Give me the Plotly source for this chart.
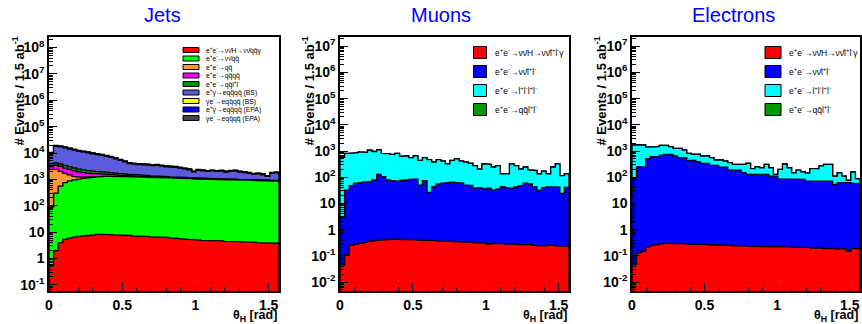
import numpy as np
import plotly.graph_objects as go

# ---------------- data ----------------
N_BINS = 50
X_MAX = np.pi / 2
edges = np.linspace(0, X_MAX, N_BINS + 1)

# Jets panel components (bottom -> top of stack)
jets_sig = [0.55, 2.0, 4.0, 5.3, 5.9, 6.5, 6.9, 7.2, 7.5, 7.8, 8.2, 8.3, 8.2, 8.0, 7.9, 7.7, 7.6, 7.5, 7.2, 7.0,
            6.9, 6.8, 6.6, 6.5, 6.7, 6.4, 6.1, 5.9, 5.7, 5.5, 5.3, 5.1, 5.0, 4.9, 4.9, 4.8, 4.8, 4.7, 4.5, 4.6,
            4.5, 4.4, 4.3, 4.2, 4.2, 4.0, 4.0, 3.9, 3.9, 3.8]
jets_nnqq = [90, 300, 550, 750, 880, 950, 1020, 1100, 1150, 1200, 1250, 1280, 1300, 1300, 1290, 1280, 1270, 1250,
             1230, 1250, 1220, 1200, 1180, 1200, 1170, 1150, 1130, 1120, 1100, 1110, 1070, 1040, 1030, 1040, 1010,
             1000, 970, 980, 960, 950, 960, 930, 920, 940, 910, 900, 920, 890, 880, 870]
jets_qq = [2300, 2100, 1450, 950, 600, 350, 200, 100, 50, 25, 15, 10, 8, 6, 5, 4, 4, 4, 4, 3, 3, 3, 3, 3, 3, 3, 3,
           3, 3, 3, 3, 3, 3, 3, 3, 3, 3, 2.5, 2.5, 2.5, 2.5, 2.5, 2.5, 2, 2, 2, 2, 2, 2, 2]
jets_qqqq = [600, 1100, 1100, 1000, 900, 800, 700, 600, 500, 430, 370, 320, 270, 220, 190, 160, 140, 120, 110, 100,
             90, 80, 70, 60, 55, 50, 45, 40, 36, 33, 30, 28, 26, 25, 24, 23, 22, 21, 20, 20, 20, 19, 19, 18, 18,
             18, 17, 17, 17, 16]
jets_qqll = [400, 700, 750, 700, 650, 600, 550, 500, 450, 400, 350, 320, 290, 260, 240, 220, 200, 180, 160, 140,
             120, 105, 95, 85, 78, 72, 66, 60, 56, 52, 50, 48, 46, 45, 44, 43, 42, 41, 40, 40, 39, 39, 38, 38, 37,
             37, 36, 36, 35, 35]
jets_eg_bs = [6450, 13700, 13170, 12240, 11220, 10170, 9115, 8550, 7960, 7320, 6750, 6250, 5670, 5010, 4340, 3660,
              2980, 2400, 2290, 2150, 2130, 2100, 1980, 2090, 1880, 1750, 1700, 1670, 1480, 1290, 1150, 800, 1090,
              990, 920, 1030, 970, 1020, 890, 1000, 1050, 910, 830, 700, 590, 650, 520, 350, 780, 840]
jets_ge_bs = [430, 780, 740, 680, 620, 560, 500, 470, 440, 410, 380, 360, 330, 300, 260, 230, 200, 170, 160, 160,
              150, 150, 140, 140, 130, 120, 120, 120, 110, 100, 90, 76, 88, 84, 80, 84, 80, 82, 76, 80, 82, 76,
              72, 68, 62, 64, 60, 52, 68, 70]
jets_eg_epa = [107, 195, 185, 170, 155, 140, 126, 118, 110, 102, 95, 89, 82, 74, 66, 58, 50, 43, 41, 39, 38, 37,
               35, 36, 33, 31, 30, 29, 27, 25, 23, 19, 22, 21, 20, 21, 20, 21, 19, 20, 21, 19, 18, 17, 16, 16, 15,
               13, 17, 17]
jets_ge_epa = [320, 585, 555, 510, 465, 420, 380, 355, 330, 306, 285, 267, 246, 222, 198, 174, 150, 129, 123, 117,
               114, 111, 105, 108, 99, 93, 90, 88, 81, 75, 69, 57, 66, 63, 60, 63, 60, 62, 57, 60, 62, 57, 54, 51,
               47, 48, 45, 39, 51, 52]

# Muons panel components
mu_sig = [0.045, 0.11, 0.26, 0.28, 0.30, 0.33, 0.36, 0.38, 0.40, 0.41, 0.42, 0.43, 0.43, 0.42, 0.42, 0.41, 0.41,
          0.40, 0.40, 0.39, 0.38, 0.37, 0.38, 0.36, 0.36, 0.35, 0.34, 0.33, 0.33, 0.32, 0.31, 0.31, 0.28, 0.30,
          0.30, 0.29, 0.28, 0.29, 0.28, 0.27, 0.26, 0.27, 0.25, 0.25, 0.24, 0.26, 0.25, 0.24, 0.23, 0.23]
mu_nnll = [3.1, 32, 48, 59, 62, 66, 67, 78, 129, 104, 78, 74, 71, 76, 78, 83, 85, 50, 74, 26, 43, 55, 59, 62, 64,
           62, 59, 50, 49, 38, 40, 36, 38, 32, 35, 43, 39, 38, 43, 48, 59, 55, 43, 31, 40, 43, 43, 42, 24, 41]
mu_llll = [572, 778, 762, 801, 858, 824, 1003, 882, 991, 706, 712, 666, 739, 544, 582, 477, 575, 390, 486, 444,
           337, 415, 356, 263, 376, 438, 356, 330, 291, 237, 165, 289, 272, 213, 240, 92, 96, 287, 232, 157, 186,
           135, 137, 104, 130, 92, 202, 283, 91, 94]
mu_qqll = [1.0, 1.5, 2.0, 2.0, 2.0, 2.0, 2.0, 2.0, 1.8, 1.8, 1.8, 1.6, 1.6, 1.6, 1.5, 1.5, 1.5, 1.4, 1.4, 1.4,
           1.3, 1.3, 1.3, 1.2, 1.2, 1.2, 1.1, 1.1, 1.1, 1.0, 1.0, 1.0, 1.0, 1.0, 1.0, 0.9, 0.9, 0.9, 0.9, 0.9,
           0.9, 0.8, 0.8, 0.8, 0.8, 0.8, 0.8, 0.8, 0.8, 0.8]

# Electrons panel components
el_sig = [0.046, 0.13, 0.15, 0.22, 0.25, 0.27, 0.29, 0.30, 0.30, 0.29, 0.29, 0.29, 0.28, 0.28, 0.27, 0.28, 0.27,
          0.26, 0.27, 0.26, 0.25, 0.26, 0.24, 0.25, 0.24, 0.23, 0.22, 0.23, 0.22, 0.23, 0.22, 0.22, 0.23, 0.22,
          0.22, 0.21, 0.22, 0.21, 0.21, 0.20, 0.21, 0.20, 0.19, 0.20, 0.19, 0.18, 0.19, 0.15, 0.19, 0.19]
el_nnll = [95, 250, 250, 510, 610, 610, 700, 750, 750, 645, 560, 560, 440, 440, 390, 340, 340, 285, 285, 240, 240,
           187, 187, 187, 148, 128, 128, 128, 128, 128, 110, 110, 87, 87, 83, 83, 83, 83, 71, 71, 71, 71, 71, 71,
           53, 62, 62, 62, 58, 58]
el_llll = [1605, 1470, 1470, 890, 870, 870, 950, 900, 730, 625, 710, 530, 375, 310, 360, 305, 305, 275, 170, 215,
           175, 173, 123, 123, 162, 212, 85, 122, 102, 182, 120, 18, 113, 233, 147, 65, 104, 79, 73, 142, 142, 199,
           239, 239, 57, 86, 48, 14, 100, 29]
el_qqll = [1.0, 1.5, 2.0, 2.0, 2.0, 2.0, 2.0, 2.0, 1.8, 1.8, 1.8, 1.6, 1.6, 1.6, 1.5, 1.5, 1.5, 1.4, 1.4, 1.4,
           1.3, 1.3, 1.3, 1.2, 1.2, 1.2, 1.1, 1.1, 1.1, 1.0, 1.0, 1.0, 1.0, 1.0, 1.0, 0.9, 0.9, 0.9, 0.9, 0.9,
           0.9, 0.8, 0.8, 0.8, 0.8, 0.8, 0.8, 0.8, 0.8, 0.8]

jets_labels = ["e<sup>+</sup>e<sup>-</sup>→νν̄H→νν̄qq̄γ", "e<sup>+</sup>e<sup>-</sup>→νν̄qq̄",
               "e<sup>+</sup>e<sup>-</sup>→qq̄", "e<sup>+</sup>e<sup>-</sup>→qq̄qq̄",
               "e<sup>+</sup>e<sup>-</sup>→qq̄l<sup>+</sup>l<sup>-</sup>", "e<sup>+</sup>γ→eqq̄qq̄ (BS)",
               "γe<sup>-</sup>→eqq̄qq̄ (BS)", "e<sup>+</sup>γ→eqq̄qq̄ (EPA)", "γe<sup>-</sup>→eqq̄qq̄ (EPA)"]
jets_colors = ["#FF0000", "#00FF00", "#FF9933", "#FF00FF", "#009900", "#5C5CDB", "#FFFF00", "#0000FF", "#444444"]
lep_colors = ["#FF0000", "#0000FF", "#00FFFF", "#009900"]
mu_labels = ["e<sup>+</sup>e<sup>-</sup>→νν̄H→νν̄l<sup>+</sup>l<sup>-</sup>γ",
             "e<sup>+</sup>e<sup>-</sup>→νν̄l<sup>+</sup>l<sup>-</sup>",
             "e<sup>+</sup>e<sup>-</sup>→l<sup>+</sup>l<sup>-</sup>l<sup>+</sup>l<sup>-</sup>",
             "e<sup>+</sup>e<sup>-</sup>→qq̄l<sup>+</sup>l<sup>-</sup>"]
panel_titles = ["Jets", "Muons", "Electrons"]
x_tick_vals = [0, 0.5, 1, 1.5]
x_tick_text = ["0", "0.5", "1", "1.5"]

# ---------------- figure ----------------
W, H = 862, 324
FLOOR = 1e-5
FONT = "Liberation Sans"


def px(x):
    return x / W


def py(y):
    return 1 - y / H


fig = go.Figure()


def add_stack(comps, colors, xa, ya):
    cum = np.cumsum(np.array(comps, dtype=float), axis=0)
    xs = np.concatenate([[edges[0]], np.repeat(edges, 2)[1:-1], [edges[-1]]])
    for k in reversed(range(len(comps))):
        ys = np.concatenate([[FLOOR], np.repeat(cum[k], 2), [FLOOR]])
        fig.add_trace(go.Scatter(x=xs, y=ys, mode="lines", fill="toself", fillcolor=colors[k],
                                 line=dict(color="black", width=1.3), xaxis=xa, yaxis=ya,
                                 showlegend=False, hoverinfo="skip"))


add_stack([jets_sig, jets_nnqq, jets_qq, jets_qqqq, jets_qqll, jets_eg_bs, jets_ge_bs, jets_eg_epa, jets_ge_epa],
          jets_colors, "x", "y")
add_stack([mu_sig, mu_nnll, mu_llll, mu_qqll], lep_colors, "x2", "y2")
add_stack([el_sig, el_nnll, el_llll, el_qqll], lep_colors, "x3", "y3")

x_domains = [[px(49), px(279)], [px(340), px(569)], [px(632), px(860)]]
y_domain = [py(291), py(37)]
y_ranges = [[-1.23, 8.4], [-2.34, 7.35], [-2.34, 7.35]]


def log_ticks(lo, hi):
    vals, text = [], []
    for n in range(int(np.ceil(lo)), int(np.floor(hi)) + 1):
        vals.append(10.0 ** n)
        if n == 0:
            text.append("1")
        elif n == 1:
            text.append("10")
        else:
            text.append("10<sup>%d</sup>" % n)
    minor = []
    for n in range(int(np.floor(lo)), int(np.ceil(hi)) + 1):
        for k in range(2, 10):
            v = k * 10.0 ** n
            if 10 ** lo < v < 10 ** hi:
                minor.append(v)
    return vals, text, minor


tickfont = dict(family=FONT, size=14, color="black", weight="bold")
layout = dict(width=W, height=H, margin=dict(l=0, r=0, t=0, b=0, autoexpand=False), paper_bgcolor="white",
              plot_bgcolor="white", showlegend=False)
for i in range(3):
    s = "" if i == 0 else str(i + 1)
    layout["xaxis" + s] = dict(domain=x_domains[i], range=[0, X_MAX], anchor="y" + s, showline=True,
                               linecolor="black", linewidth=1.5, mirror=True, ticks="inside", ticklen=8,
                               tickcolor="black", tickvals=x_tick_vals, ticktext=x_tick_text, tickfont=tickfont,
                               showgrid=False, zeroline=False, automargin=False,
                               minor=dict(ticks="inside", ticklen=4, dtick=0.1, tick0=0, tickcolor="black",
                                          showgrid=False))
    tv, tt, mv = log_ticks(*y_ranges[i])
    layout["yaxis" + s] = dict(domain=y_domain, type="log", range=y_ranges[i], anchor="x" + s, showline=True,
                               linecolor="black", linewidth=1.5, mirror=True, ticks="inside", ticklen=8,
                               tickcolor="black", tickvals=tv, ticktext=tt, tickfont=tickfont, showgrid=False,
                               zeroline=False, automargin=False,
                               minor=dict(ticks="inside", ticklen=4, tickmode="array", tickvals=mv,
                                          tickcolor="black", showgrid=False))
fig.update_layout(**layout)

annotations = []
shapes = []
title_x = [162, 441, 733]
ytitle_x = [18, 308, 600]
for i in range(3):
    annotations.append(dict(text=panel_titles[i], x=px(title_x[i]), y=py(15), xref="paper", yref="paper",
                            showarrow=False, xanchor="center", yanchor="middle",
                            font=dict(family=FONT, size=20, color="#0000FF")))
    annotations.append(dict(text="# Events / 1.5 ab<sup>-1</sup>", x=px(ytitle_x[i]), y=py(35), xref="paper",
                            yref="paper", showarrow=False, textangle=-90, xanchor="center", yanchor="top",
                            font=dict(family=FONT, size=13, color="black", weight="bold")))
    annotations.append(dict(text="θ<sub>H</sub> [rad]", x=x_domains[i][1], y=py(316.3), xref="paper",
                            yref="paper", showarrow=False, xanchor="right", yanchor="middle",
                            font=dict(family=FONT, size=12.5, color="black", weight="bold")))

# Jets legend
for j, (lab, col) in enumerate(zip(jets_labels, jets_colors)):
    yc = 50 + 8.5 * j
    shapes.append(dict(type="rect", xref="paper", yref="paper", x0=px(183), x1=px(199), y0=py(yc + 2.5),
                       y1=py(yc - 2.5), fillcolor=col, line=dict(color="black", width=1)))
    annotations.append(dict(text=lab, x=px(204), y=py(yc), xref="paper", yref="paper", showarrow=False,
                            xanchor="left", yanchor="middle", font=dict(family=FONT, size=6.8, color="black")))

# Lepton legends
for bx0, bx1, tx in [(473.5, 486.5, 493), (765, 781, 787)]:
    for j, (lab, col) in enumerate(zip(mu_labels, lep_colors)):
        yc = 52.5 + 19 * j
        shapes.append(dict(type="rect", xref="paper", yref="paper", x0=px(bx0), x1=px(bx1), y0=py(yc + 6),
                           y1=py(yc - 6), fillcolor=col, line=dict(color="black", width=1)))
        annotations.append(dict(text=lab, x=px(tx), y=py(yc), xref="paper", yref="paper", showarrow=False,
                                xanchor="left", yanchor="middle", font=dict(family=FONT, size=8.5, color="black")))

fig.update_layout(annotations=annotations, shapes=shapes)
fig.write_html("out.html", config={"displayModeBar": False},
               post_script="document.body.style.margin='0';document.body.style.overflow='hidden';")
